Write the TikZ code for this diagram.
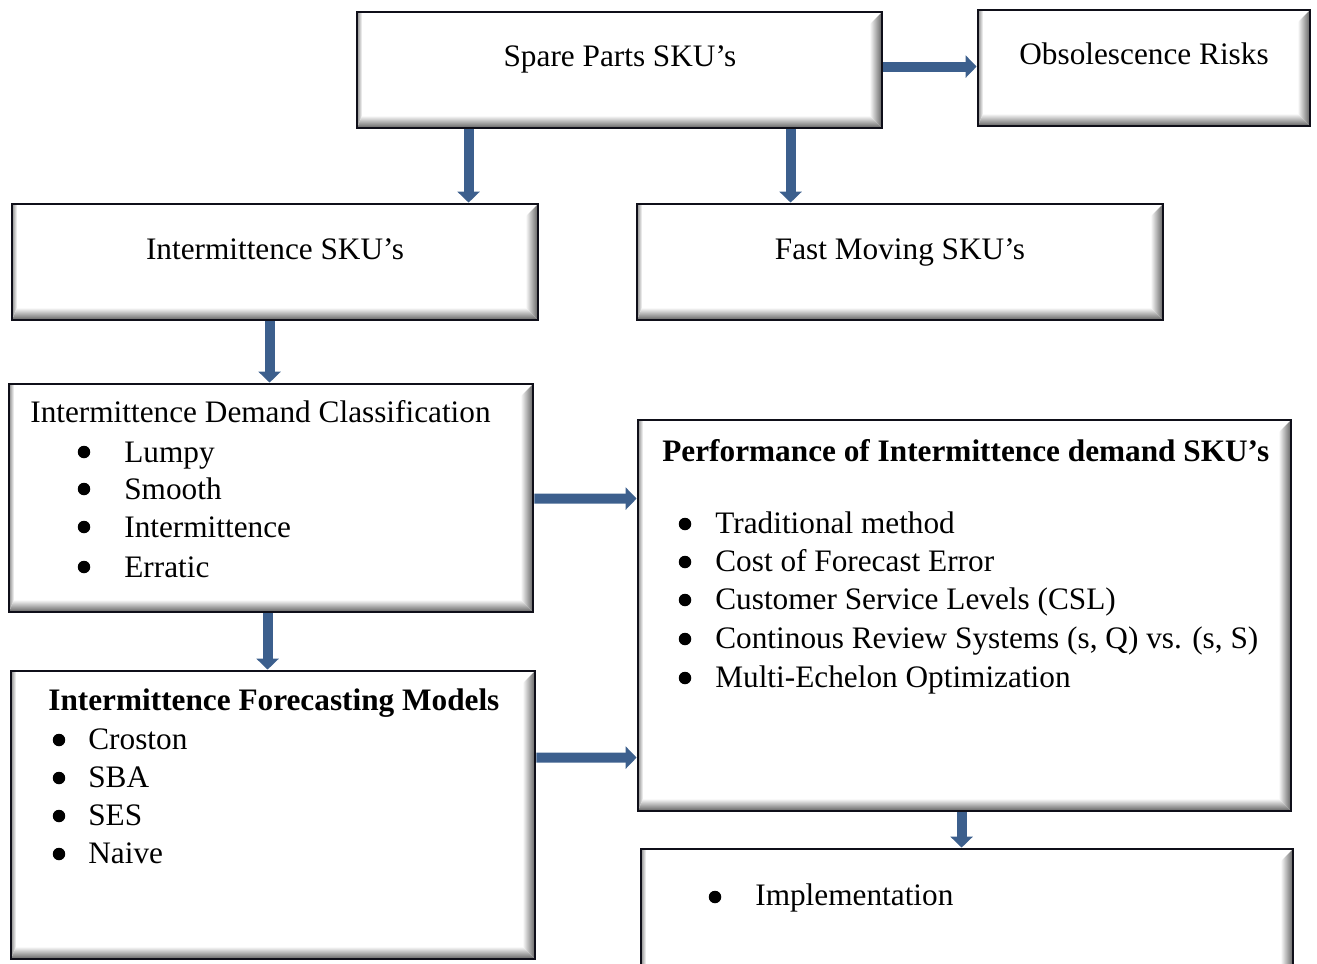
\documentclass[tikz,border=0pt]{standalone}
\usepackage{fontspec}
\setmainfont{Liberation Serif}
\usetikzlibrary{arrows.meta,calc,fit}
\definecolor{arrblue}{RGB}{60,95,141}
\definecolor{boxline}{RGB}{15,15,25}
\tikzset{
  bev/.style={draw=boxline, line width=1.6pt, fill=white, inner sep=0pt,
    path picture={
      \path (path picture bounding box.north east) coordinate (@ne)
            (path picture bounding box.south west) coordinate (@sw);
      \shade[left color=white, right color=black!62]
        let \p1=(@ne), \p2=(@sw) in
        (\x1-0.25cm,\y1-0.25cm) -- (\x1,\y1) -- (\x1,\y2) -- (\x1-0.25cm,\y2+0.25cm) -- cycle;
      \shade[top color=white, bottom color=black!62]
        let \p1=(@ne), \p2=(@sw) in
        (\x2+0.1cm,\y2+0.25cm) -- (\x1-0.25cm,\y2+0.25cm) -- (\x1,\y2) -- (\x2,\y2) -- cycle;
      \shade[left color=black!45, right color=white]
        let \p1=(@ne), \p2=(@sw) in
        (\x2,\y1) -- (\x2,\y2) -- (\x2+0.1cm,\y2+0.25cm) -- (\x2+0.1cm,\y1) -- cycle;
    }},
  txt/.style={font=\fontsize{17.8}{21}\selectfont, inner sep=0pt, anchor=base west},
  ctxt/.style={font=\fontsize{17.8}{21}\selectfont, inner sep=0pt, anchor=base},
  btxt/.style={font=\fontsize{17.8}{21}\selectfont\bfseries, inner sep=0pt, anchor=base west},
  dot/.style={circle, fill=black, inner sep=0pt, minimum size=0.25cm},
  arr/.style={draw=arrblue, line width=0.2cm, -{Triangle[width=0.44cm,length=0.22cm]}}
}
\begin{document}
\begin{tikzpicture}[x=0.02cm,y=-0.02cm]
\useasboundingbox (0,0) rectangle (1317,963);
% boxes
\node[bev, fit={(357,12) (882,128)}] (sp) {};
\node[bev, fit={(978,10) (1310,126)}] (obs) {};
\node[bev, fit={(12,204) (538,320)}] (isku) {};
\node[bev, fit={(637,204) (1163,320)}] (fast) {};
\node[bev, fit={(9,384) (533,612)}] (dc) {};
\node[bev, fit={(638,420) (1291,811)}] (perf) {};
\node[bev, fit={(11,671) (535,959)}] (fm) {};
\node[bev, fit={(641,849) (1293,985)}] (impl) {};
% single-line texts
\node[ctxt] (tsp) at (620,67) {Spare Parts SKU’s};
\node[ctxt] (tobs) at (1144,65) {Obsolescence Risks};
\node[ctxt] (tisku) at (275,259) {Intermittence SKU’s};
\node[ctxt] (tfast) at (900,259) {Fast Moving SKU’s};
% demand classification
\node[txt] (dc0) at (30,422) {Intermittence Demand Classification};
\node[dot] (dcb1) at (84,452) {}; \node[txt] (dc1) at (124,462) {Lumpy};
\node[dot] (dcb2) at (84,489) {}; \node[txt] (dc2) at (124,499) {Smooth};
\node[dot] (dcb3) at (84,527) {}; \node[txt] (dc3) at (124,537) {Intermittence};
\node[dot] (dcb4) at (84,567) {}; \node[txt] (dc4) at (124,577) {Erratic};
% performance
\node[btxt] (pf0) at (662,461) {Performance of Intermittence demand SKU’s};
\node[dot] (pfb1) at (685,524) {}; \node[txt] (pf1) at (715,533) {Traditional method};
\node[dot] (pfb2) at (685,562) {}; \node[txt] (pf2) at (715,571) {Cost of Forecast Error};
\node[dot] (pfb3) at (685,600) {}; \node[txt] (pf3) at (715,609) {Customer Service Levels (CSL)};
\node[dot] (pfb4) at (685,639) {}; \node[txt] (pf4) at (715,648) {Continous Review Systems (s, Q) vs. (s, S)};
\node[dot] (pfb5) at (685,678) {}; \node[txt] (pf5) at (715,687) {Multi-Echelon Optimization};
% forecasting models
\node[btxt] (fm0) at (48,710) {Intermittence Forecasting Models};
\node[dot] (fmb1) at (59,740) {}; \node[txt] (fm1) at (88,749) {Croston};
\node[dot] (fmb2) at (59,778) {}; \node[txt] (fm2) at (88,787) {SBA};
\node[dot] (fmb3) at (59,816) {}; \node[txt] (fm3) at (88,825) {SES};
\node[dot] (fmb4) at (59,854) {}; \node[txt] (fm4) at (88,863) {Naive};
% implementation
\node[dot] (imb1) at (715,897) {}; \node[txt] (im1) at (755,905) {Implementation};
% arrows
\draw[arr] ($(sp.south west)+(113,0)$) -- ($(isku.north west)+(458,0)$);
\draw[arr] ($(sp.south west)+(435,0)$) -- ($(fast.north west)+(155,0)$);
\draw[arr] ($(sp.north east)+(0,56)$) -- ($(obs.north west)+(0,58)$);
\draw[arr] ($(isku.south west)+(259,0)$) -- ($(dc.north west)+(262,0)$);
\draw[arr] ($(dc.south west)+(260,0)$) -- ($(fm.north west)+(258,0)$);
\draw[arr] ($(dc.north east)+(0,116)$) -- ($(perf.north west)+(0,80)$);
\draw[arr] ($(fm.north east)+(0,88)$) -- ($(perf.north west)+(0,339)$);
\draw[arr] ($(perf.south west)+(325,0)$) -- ($(impl.north west)+(322,0)$);
\end{tikzpicture}
\end{document}
